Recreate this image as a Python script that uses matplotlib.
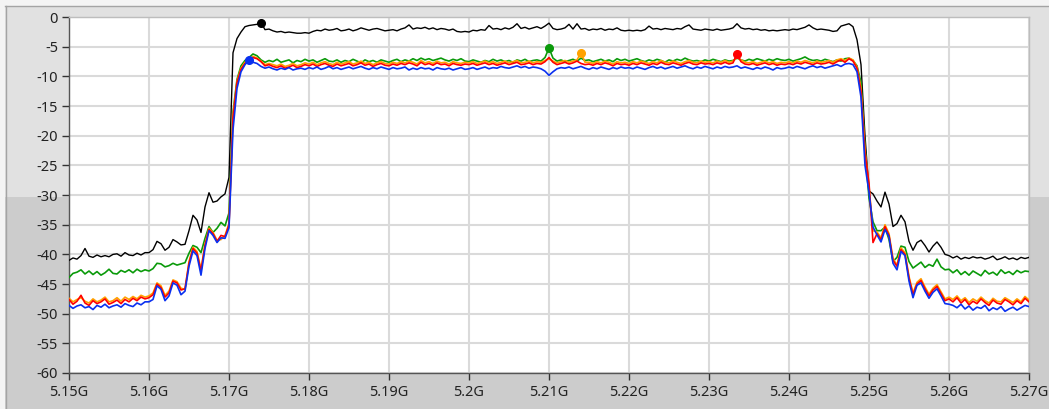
import numpy as np
import matplotlib
matplotlib.use("Agg")
import matplotlib.pyplot as plt
from matplotlib.patches import Rectangle
from matplotlib.lines import Line2D

plt.rcParams["font.family"] = ["Noto Sans", "DejaVu Sans"]
plt.rcParams["axes.unicode_minus"] = False

# Sweep: 5.15 GHz .. 5.27 GHz, 0.5 MHz per bin (241 bins)
freq_start_ghz = 5.15
freq_step_ghz = 0.0005
n_bins = 241

trace_black = [
    -41.0, -40.6, -40.8, -40.2, -39.0, -40.3, -40.5, -40.1, -40.4, -40.2,
    -40.4, -40.0, -39.9, -40.3, -39.7, -40.1, -40.2, -39.8, -40.1, -39.7,
    -39.7, -39.2, -37.8, -38.2, -39.3, -38.8, -37.5, -37.9, -38.4, -38.3,
    -36.0, -33.4, -34.2, -36.3, -32.0, -29.6, -31.2, -31.0, -30.3, -29.8,
    -27.0, -6.0, -3.6, -2.5, -1.6, -1.4, -1.3, -1.2, -0.9, -2.1,
    -2.0, -2.3, -2.5, -2.4, -2.6, -2.5, -2.6, -2.7, -2.7, -2.6,
    -2.7, -2.4, -2.2, -2.3, -2.0, -2.2, -2.1, -1.9, -2.3, -2.2,
    -2.0, -2.3, -2.1, -1.8, -2.0, -2.2, -2.0, -1.9, -2.1, -2.3,
    -2.2, -2.1, -2.3, -2.0, -1.8, -1.3, -2.0, -1.8, -1.9, -1.7,
    -2.0, -1.8, -2.1, -1.9, -2.0, -2.2, -2.0, -2.4, -2.5, -2.4,
    -2.5, -2.2, -2.3, -2.1, -2.2, -1.4, -2.0, -1.9, -2.1, -1.8,
    -2.0, -1.7, -1.1, -1.9, -1.7, -2.0, -1.8, -1.6, -1.9, -1.5,
    -1.0, -1.9, -2.1, -2.0, -1.8, -1.2, -2.0, -1.1, -2.0, -1.9,
    -2.2, -2.0, -2.1, -1.9, -2.2, -2.0, -2.1, -1.8, -2.2, -2.3,
    -2.2, -2.3, -2.2, -2.3, -2.1, -1.5, -2.0, -1.9, -2.1, -1.9,
    -2.0, -2.1, -1.9, -2.0, -1.6, -1.3, -2.0, -2.1, -2.2, -2.0,
    -2.1, -2.2, -2.0, -2.2, -2.1, -2.0, -1.8, -1.1, -1.8, -2.0,
    -1.9, -2.1, -2.0, -2.2, -2.1, -2.3, -2.2, -2.3, -2.2, -2.1,
    -2.2, -2.0, -2.1, -1.9, -1.7, -1.3, -1.8, -2.1, -2.0, -2.1,
    -2.2, -2.4, -2.3, -1.5, -1.3, -1.1, -1.6, -3.8, -8.0, -20.0,
    -29.3, -29.8, -31.0, -32.0, -29.5, -31.5, -35.3, -34.8, -33.4, -34.5,
    -37.8, -39.3, -38.0, -37.6, -38.5, -39.6, -38.6, -37.9, -38.8, -40.0,
    -40.2, -40.6, -40.3, -40.8, -40.5, -40.7, -40.4, -40.6, -40.5, -40.8,
    -40.6, -40.3, -40.9, -40.7, -40.4, -40.8, -40.6, -40.9, -40.5, -40.7,
    -40.5,
]

trace_green = [
    -43.9, -43.2, -43.0, -42.6, -43.3, -42.8, -43.4, -42.9, -43.5, -43.1,
    -42.5, -43.2, -43.3, -42.7, -43.0, -42.6, -43.1, -42.5, -42.9, -42.6,
    -42.8, -42.4, -41.5, -41.6, -42.1, -41.9, -41.5, -41.8, -41.6, -41.4,
    -39.8, -38.5, -38.8, -39.7, -37.3, -35.3, -36.3, -35.6, -34.6, -35.2,
    -33.0, -16.0, -10.5, -8.2, -7.3, -6.8, -6.2, -6.5, -7.2, -7.6,
    -7.3, -7.5, -7.1, -7.6, -7.4, -7.2, -7.7, -7.3, -7.5, -7.1,
    -7.4, -7.2, -7.6, -7.3, -7.0, -7.4, -7.5, -7.2, -7.6, -7.3,
    -7.5, -7.1, -7.4, -7.7, -7.2, -7.5, -7.3, -7.6, -7.2, -7.4,
    -7.6, -7.3, -7.1, -7.5, -7.2, -7.4, -7.0, -7.3, -6.9, -7.2,
    -7.0, -7.3, -7.1, -6.9, -7.2, -7.4, -7.1, -7.3, -7.0, -7.4,
    -7.5, -7.2, -7.4, -7.6, -7.3, -7.5, -7.1, -7.4, -7.2, -7.5,
    -7.3, -7.6, -7.2, -7.4, -7.1, -7.5, -7.3, -7.2, -7.4, -6.8,
    -5.2, -6.9, -7.4, -7.2, -7.5, -7.3, -7.1, -7.4, -6.9, -7.3,
    -7.2, -7.5, -7.3, -7.1, -7.4, -7.2, -7.5, -7.0, -7.3, -7.1,
    -7.4, -7.2, -7.0, -7.3, -7.5, -7.2, -7.4, -7.1, -7.3, -7.6,
    -7.2, -7.4, -7.1, -7.3, -6.9, -7.2, -7.4, -7.3, -7.5, -7.2,
    -7.4, -7.1, -7.3, -7.5, -7.2, -7.4, -7.3, -6.9, -7.2, -7.4,
    -7.1, -7.3, -7.0, -7.2, -7.4, -7.1, -7.3, -7.0, -7.2, -7.3,
    -7.1, -7.4, -7.2, -7.0, -6.7, -7.1, -7.3, -7.2, -7.4, -7.1,
    -7.3, -7.5, -7.2, -7.4, -7.0, -6.9, -7.3, -8.2, -11.0, -22.0,
    -30.5, -34.5, -36.0, -36.0, -35.4, -37.5, -41.2, -40.5, -38.6, -38.8,
    -41.2, -42.3, -41.8, -41.3, -42.2, -41.7, -42.0, -40.8, -42.1, -42.6,
    -42.5, -43.1, -42.6, -43.4, -42.9, -43.5, -42.8, -43.2, -43.6, -42.7,
    -43.3, -43.0, -43.5, -42.6, -43.2, -42.9, -43.4, -42.7, -43.1, -42.8,
    -42.9,
]

trace_orange = [
    -47.4, -48.0, -47.6, -47.3, -47.9, -48.2, -47.5, -48.0, -47.7, -47.2,
    -48.0, -47.8, -47.3, -47.9, -47.2, -47.6, -47.1, -47.5, -46.9, -47.2,
    -47.0, -46.5, -44.8, -45.3, -46.9, -46.2, -44.3, -44.6, -45.7, -45.9,
    -41.2, -38.8, -39.5, -42.5, -38.3, -35.6, -36.3, -37.6, -37.5, -36.8,
    -34.8, -16.5, -10.8, -8.6, -7.6, -7.1, -6.6, -6.9, -7.4, -8.0,
    -7.8, -8.0, -8.2, -7.9, -8.3, -8.1, -7.8, -8.2, -8.0, -7.7,
    -7.9, -7.6, -8.0, -7.7, -7.5, -7.8, -8.0, -7.6, -7.9, -7.7,
    -7.5, -7.9, -7.7, -7.4, -7.8, -7.6, -8.0, -7.7, -7.5, -7.8,
    -7.9, -7.6, -7.8, -7.5, -7.7, -7.4, -7.6, -7.9, -7.3, -7.7,
    -7.5, -7.8, -7.4, -7.7, -7.6, -7.9, -7.5, -7.7, -7.8, -7.6,
    -7.7, -7.5, -7.8, -7.6, -7.4, -7.7, -7.5, -7.8, -7.6, -7.4,
    -7.7, -7.5, -7.3, -7.7, -7.6, -7.4, -7.7, -7.5, -7.6, -7.3,
    -7.0, -7.4, -7.7, -7.5, -7.3, -7.6, -7.4, -7.2, -6.0, -7.6,
    -7.6, -7.8, -7.5, -7.7, -7.4, -7.6, -7.9, -7.5, -7.7, -7.6,
    -7.8, -7.5, -7.7, -7.4, -7.6, -7.8, -7.5, -7.7, -7.3, -7.6,
    -7.7, -7.4, -7.6, -7.8, -7.5, -7.3, -7.6, -7.7, -7.4, -7.6,
    -7.5, -7.7, -7.4, -7.6, -7.3, -7.6, -7.4, -6.8, -7.2, -7.6,
    -7.7, -7.5, -7.8, -7.6, -7.4, -7.7, -7.5, -7.8, -7.6, -7.7,
    -7.5, -7.7, -7.4, -7.6, -7.3, -7.5, -7.7, -7.4, -7.6, -7.5,
    -7.3, -7.6, -7.2, -7.0, -7.3, -6.9, -7.2, -8.4, -12.0, -22.5,
    -28.5, -36.0, -36.2, -37.2, -35.0, -36.5, -40.7, -41.8, -38.9, -39.7,
    -43.7, -46.5, -44.7, -44.1, -45.5, -46.7, -45.7, -45.1, -46.3, -47.5,
    -47.2, -47.6, -47.0, -47.8, -47.3, -48.1, -47.5, -47.9, -47.2, -47.8,
    -48.2, -47.4, -47.9, -48.0, -47.3, -47.7, -48.1, -47.5, -48.0, -47.1,
    -47.7,
]

trace_red = [
    -47.6, -48.4, -47.9, -46.9, -48.2, -48.6, -47.8, -48.3, -48.0, -47.5,
    -48.4, -48.1, -47.7, -48.3, -47.6, -48.0, -47.4, -47.8, -47.2, -47.5,
    -47.3, -46.8, -45.0, -45.6, -47.2, -46.5, -44.5, -44.8, -46.0, -45.8,
    -41.5, -39.0, -39.8, -42.8, -38.5, -35.8, -36.5, -37.8, -36.8, -37.0,
    -35.0, -17.0, -11.0, -8.8, -7.8, -7.3, -6.8, -7.0, -7.5, -8.2,
    -8.0, -8.3, -8.5, -8.2, -8.6, -8.4, -8.1, -8.5, -8.3, -8.0,
    -8.2, -7.9, -8.3, -8.0, -7.8, -8.1, -8.3, -7.9, -8.2, -8.0,
    -7.8, -8.2, -8.0, -7.7, -8.1, -7.9, -8.3, -8.0, -7.8, -8.1,
    -8.2, -7.9, -8.1, -7.8, -8.0, -7.7, -7.9, -8.2, -7.6, -8.0,
    -7.8, -8.1, -7.7, -8.0, -7.9, -8.2, -7.8, -8.0, -8.1, -7.9,
    -8.0, -7.8, -8.1, -7.9, -7.7, -8.0, -7.8, -8.1, -7.9, -7.7,
    -8.0, -7.8, -7.6, -8.0, -7.9, -7.7, -8.0, -7.8, -7.9, -7.5,
    -6.8, -7.6, -8.0, -7.8, -7.6, -7.9, -7.7, -7.4, -7.8, -8.0,
    -7.9, -8.1, -7.8, -8.0, -7.7, -7.9, -8.2, -7.8, -8.0, -7.9,
    -8.1, -7.8, -8.0, -7.7, -7.9, -8.1, -7.8, -8.0, -7.6, -7.9,
    -8.0, -7.7, -7.9, -8.1, -7.8, -7.6, -7.9, -8.0, -7.7, -7.9,
    -7.8, -8.0, -7.7, -7.9, -7.6, -7.9, -7.7, -6.2, -7.5, -7.9,
    -8.0, -7.8, -8.1, -7.9, -7.7, -8.0, -7.8, -8.1, -7.9, -8.0,
    -7.8, -8.0, -7.7, -7.9, -7.6, -7.8, -8.0, -7.7, -7.9, -7.8,
    -7.6, -7.9, -7.5, -7.2, -7.6, -7.0, -7.4, -8.6, -12.5, -23.0,
    -28.0, -38.0, -36.5, -37.5, -35.3, -36.8, -41.0, -42.0, -39.2, -40.0,
    -44.0, -46.8, -45.0, -44.4, -45.8, -47.0, -46.0, -45.4, -46.6, -47.8,
    -47.5, -48.0, -47.3, -48.2, -47.6, -48.5, -47.9, -48.3, -47.5, -48.1,
    -48.6, -47.7, -48.2, -48.4, -47.6, -48.0, -48.5, -47.8, -48.3, -47.4,
    -48.0,
]

trace_blue = [
    -48.6, -49.1, -48.7, -48.5, -49.0, -48.8, -49.3, -48.6, -48.9, -48.4,
    -49.0, -48.7, -48.5, -48.9, -48.3, -48.6, -48.8, -48.2, -48.5, -48.0,
    -48.0, -47.6, -45.3, -45.9, -47.8, -47.0, -44.8, -45.2, -46.8, -46.2,
    -42.0, -39.4, -40.2, -43.5, -39.0, -36.0, -36.8, -38.0, -37.2, -37.3,
    -35.5, -19.0, -12.0, -9.2, -8.0, -7.2, -7.6, -7.8, -8.3, -8.6,
    -8.4, -8.7, -8.9, -8.6, -8.8, -8.5, -8.9, -8.7, -8.6, -8.8,
    -8.5, -8.7, -8.4, -8.8, -8.6, -8.3, -8.7, -8.5, -8.8, -8.6,
    -8.4, -8.7, -8.5, -8.3, -8.6, -8.8, -8.5, -8.7, -8.4, -8.6,
    -8.8, -8.5, -8.7, -8.6, -8.4, -8.9, -8.6, -8.8, -8.5, -8.7,
    -8.6, -8.9, -8.5, -8.7, -8.8, -8.6, -8.9, -8.7, -8.5, -8.8,
    -8.7, -8.5, -8.8, -8.6, -8.4, -8.7, -8.5, -8.6, -8.3, -8.5,
    -8.6, -8.4, -8.2, -8.5, -8.3, -8.6, -8.4, -8.5, -8.7, -9.1,
    -9.8, -9.2, -8.7, -8.5, -8.6, -8.4, -8.7, -8.5, -8.3, -8.6,
    -8.8, -8.5, -8.7, -8.4, -8.6, -8.8, -8.5, -8.7, -8.4, -8.6,
    -8.5, -8.7, -8.4, -8.6, -8.8, -8.5, -8.3, -8.6, -8.4, -8.7,
    -8.5, -8.3, -8.6, -8.4, -8.2, -8.5, -8.7, -8.4, -8.6, -8.3,
    -8.5, -8.7, -8.4, -8.6, -8.3, -8.5, -8.4, -8.2, -8.6, -8.4,
    -8.6, -8.8, -8.5, -8.7, -8.4, -8.6, -8.9, -8.5, -8.7, -8.6,
    -8.4, -8.6, -8.3, -8.5, -8.7, -8.4, -8.2, -8.5, -8.3, -8.6,
    -8.4, -8.2, -8.0, -8.3, -7.9, -7.8, -8.0, -9.2, -13.5, -25.0,
    -29.5, -35.4, -36.7, -37.9, -35.8, -37.0, -41.5, -42.6, -39.5, -40.2,
    -44.5, -47.3, -45.2, -44.8, -46.2, -47.4, -46.4, -45.8, -47.0, -48.3,
    -48.4, -48.6, -49.0, -48.4, -49.2, -48.7, -49.4, -48.9, -49.1, -48.6,
    -49.5, -49.0, -49.3, -48.8, -49.6, -49.2, -48.9, -49.4, -49.0, -48.6,
    -48.8,
]

trace_colors = ["#000000", "#0a9a0a", "#ffa200", "#ff0000", "#0a30f0"]
trace_widths = [1.0, 1.2, 1.2, 1.2, 1.2]

x_ticks_ghz = [5.15, 5.16, 5.17, 5.18, 5.19, 5.20, 5.21, 5.22, 5.23, 5.24, 5.25, 5.26, 5.27]
y_ticks_db = [0, -5, -10, -15, -20, -25, -30, -35, -40, -45, -50, -55, -60]

W, H = 1049, 409
fig = plt.figure(figsize=(W / 100, H / 100), dpi=100)
fig.patch.set_facecolor("#f4f4f4")

# Panel background: light upper half, darker lower half, thin outline
fig.patches.append(Rectangle((5 / W, (H - 197) / H), 1, (197 - 6) / H,
                             transform=fig.transFigure, facecolor="#e1e1e1",
                             edgecolor="none", zorder=-10))
fig.patches.append(Rectangle((5 / W, 0), 1, (H - 197) / H,
                             transform=fig.transFigure, facecolor="#cccccc",
                             edgecolor="none", zorder=-10))
fig.lines.append(Line2D([5.5 / W, 5.5 / W], [0, (H - 6) / H],
                        transform=fig.transFigure, color="#a4a4a4", lw=1.0,
                        zorder=-9))
fig.lines.append(Line2D([5 / W, 1], [(H - 6) / H, (H - 6) / H],
                        transform=fig.transFigure, color="#a4a4a4", lw=1.0,
                        zorder=-9))

ax = fig.add_axes([69 / W, 36 / H, 960 / W, 355.8 / H])
ax.set_zorder(1)
ax.set_facecolor("white")

freqs = freq_start_ghz + freq_step_ghz * np.arange(n_bins)
traces = [trace_black, trace_green, trace_orange, trace_red, trace_blue]

for tr, col, lw in zip(traces, trace_colors, trace_widths):
    y = np.asarray(tr)
    ax.plot(freqs, y, color=col, lw=lw, zorder=3)

# Peak markers on each trace
for tr, col in zip(traces, trace_colors):
    y = np.asarray(tr)
    k = int(np.argmax(y))
    ax.plot(freqs[k], y[k], "o", color=col, ms=5.5, zorder=4)

ax.set_xlim(5.15, 5.27)
ax.set_ylim(-60, 0)
ax.set_xticks(x_ticks_ghz)
ax.set_xticklabels([f"{round(v, 3):g}G" for v in x_ticks_ghz])
ax.set_yticks(y_ticks_db)
ax.set_yticklabels([f"{v}" for v in y_ticks_db])

ax.grid(True, color="#dadada", lw=1.5, zorder=1)
ax.set_axisbelow(True)

for side in ("top", "right"):
    ax.spines[side].set_color("#bdbdbd")
    ax.spines[side].set_linewidth(1.0)
for side in ("left", "bottom"):
    ax.spines[side].set_color("#555555")
    ax.spines[side].set_linewidth(1.0)

ax.tick_params(axis="both", direction="out", length=5, width=1.0,
               color="#333333", labelcolor="#222222", labelsize=10.5)
ax.tick_params(axis="y", pad=3)
ax.tick_params(axis="x", pad=4)

fig.savefig("out.png", dpi=100, facecolor=fig.get_facecolor())
